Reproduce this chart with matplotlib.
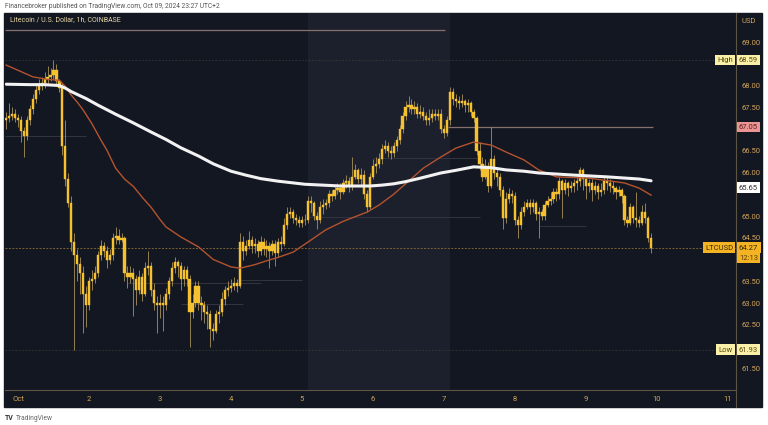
import matplotlib
matplotlib.use("Agg")
import matplotlib.pyplot as plt
import matplotlib.transforms as mtransforms
from matplotlib.lines import Line2D
from matplotlib.patches import Rectangle
import numpy as np

plt.rcParams["font.family"] = ["Roboto", "DejaVu Sans"]

W, H = 768, 425

# hourly LTC/USD candles, first one starts 4h before Oct 1 00:00
first_hour = -4
closes = [
    67.25, 67.30, 67.35, 67.25, 67.20, 66.95, 66.85, 67.20, 67.45, 67.70, 67.90, 68.00,
    68.05, 68.15, 68.20, 68.25, 68.35, 68.10, 67.95, 66.60, 65.85, 65.30, 64.40, 64.10,
    63.90, 63.70, 63.20, 62.95, 63.50, 63.55, 63.70, 64.10, 64.30, 64.20, 64.00, 64.10,
    64.50, 64.55, 64.45, 64.50, 63.70, 63.60, 63.70, 63.55, 63.30, 63.60, 63.20, 63.80,
    63.85, 63.30, 63.00, 62.95, 63.00, 62.95, 63.20, 63.50, 63.80, 63.95, 63.85, 63.55,
    63.75, 63.55, 62.80, 63.00, 63.40, 63.00, 62.95, 62.80, 62.75, 62.40, 62.35, 62.75,
    62.80, 63.10, 63.30, 63.35, 63.40, 63.45, 63.40, 64.40, 64.20, 64.30, 64.45, 64.30,
    64.35, 64.20, 64.40, 64.25, 64.30, 64.20, 64.35, 64.15, 64.40, 64.35, 64.80, 65.05,
    65.10, 64.95, 64.90, 64.85, 64.90, 64.90, 65.35, 65.30, 65.00, 64.90, 65.20, 65.25,
    65.30, 65.50, 65.45, 65.60, 65.65, 65.55, 65.75, 65.80, 65.70, 65.90, 66.05, 65.85,
    65.95, 65.50, 65.20, 65.90, 66.15, 66.20, 66.30, 66.55, 66.60, 66.50, 66.45, 66.60,
    66.75, 67.00, 67.30, 67.50, 67.55, 67.45, 67.50, 67.35, 67.40, 67.30, 67.20, 67.25,
    67.35, 67.30, 67.35, 67.00, 66.90, 67.20, 67.85, 67.70, 67.65, 67.60, 67.65, 67.55,
    67.60, 67.40, 67.25, 66.50, 66.20, 65.90, 66.15, 65.70, 66.30, 66.00, 65.90, 65.60,
    64.95, 65.40, 65.50, 65.45, 64.90, 64.80, 65.10, 65.20, 65.30, 65.20, 65.30, 65.05,
    65.10, 65.00, 65.25, 65.35, 65.40, 65.55, 65.50, 65.80, 65.60, 65.75, 65.65, 65.70,
    65.75, 65.80, 66.05, 65.85, 65.70, 65.75, 65.60, 65.70, 65.55, 65.60, 65.80, 65.75,
    65.70, 65.65, 65.55, 65.60, 65.45, 64.90, 64.85, 65.20, 64.95, 64.90, 64.85, 65.10,
    64.95, 64.50, 64.27,
]
highs = [
    67.40, 67.60, 67.50, 67.45, 67.35, 67.30, 67.05, 67.30, 67.55, 67.80, 68.05, 68.15,
    68.20, 68.30, 68.45, 68.40, 68.59, 68.50, 68.15, 68.05, 67.20, 66.00, 65.45, 64.60,
    64.25, 64.05, 63.85, 63.40, 63.60, 63.75, 63.85, 64.20, 64.45, 64.40, 64.30, 64.25,
    64.60, 64.75, 64.70, 64.60, 64.55, 63.85, 63.85, 63.80, 63.65, 63.75, 63.70, 63.95,
    64.20, 63.95, 63.45, 63.15, 63.20, 63.15, 63.35, 63.60, 63.95, 64.05, 64.00, 63.95,
    63.85, 63.85, 63.65, 63.20, 63.50, 63.50, 63.15, 63.05, 62.95, 62.85, 62.55, 62.85,
    62.95, 63.25, 63.40, 63.50, 63.55, 63.60, 63.55, 64.60, 64.55, 64.45, 64.65, 64.55,
    64.50, 64.45, 64.55, 64.50, 64.45, 64.40, 64.45, 64.45, 64.50, 64.55, 64.95, 65.20,
    65.20, 65.15, 65.05, 65.00, 65.00, 65.05, 65.45, 65.45, 65.35, 65.10, 65.35, 65.40,
    65.40, 65.60, 65.60, 65.70, 65.75, 65.75, 65.85, 65.95, 65.90, 66.35, 66.20, 66.10,
    66.10, 66.05, 65.60, 66.00, 66.30, 66.35, 66.45, 66.65, 66.75, 66.70, 66.60, 66.70,
    66.85, 67.10, 67.40, 67.65, 67.75, 67.70, 67.65, 67.60, 67.55, 67.50, 67.40, 67.45,
    67.45, 67.45, 67.45, 67.45, 67.10, 67.30, 67.97, 67.95, 67.80, 67.75, 67.80, 67.70,
    67.70, 67.65, 67.45, 67.30, 66.70, 66.35, 66.30, 66.25, 67.05, 66.40, 66.10, 66.00,
    65.70, 65.55, 65.65, 65.60, 65.55, 65.00, 65.20, 65.35, 65.40, 65.40, 65.40, 65.35,
    65.20, 65.15, 65.35, 65.45, 65.55, 65.65, 65.65, 65.90, 65.85, 65.85, 65.80, 65.80,
    65.85, 65.95, 66.13, 66.10, 65.95, 65.85, 65.85, 65.80, 65.75, 65.75, 65.90, 65.90,
    65.85, 65.80, 65.70, 65.70, 65.65, 65.50, 65.00, 65.30, 65.25, 65.55, 65.00, 65.25,
    65.30, 65.00, 64.60,
]
lows = [
    67.00, 67.15, 67.20, 67.15, 67.05, 66.70, 66.35, 66.75, 67.10, 67.35, 67.60, 67.80,
    67.90, 67.95, 68.05, 68.10, 68.15, 68.00, 67.85, 66.40, 65.70, 65.20, 64.20, 61.93,
    63.50, 63.20, 62.30, 62.45, 62.85, 63.30, 63.45, 63.60, 64.00, 64.05, 63.80, 63.90,
    64.00, 64.35, 64.35, 64.40, 63.50, 63.35, 63.45, 62.70, 62.95, 63.20, 63.05, 63.15,
    63.65, 63.15, 62.85, 62.30, 62.65, 62.35, 62.85, 63.10, 63.40, 63.70, 63.60, 63.30,
    63.40, 63.40, 62.00, 62.65, 62.90, 62.85, 62.60, 62.55, 62.40, 62.00, 62.15, 62.30,
    62.55, 62.70, 62.95, 63.15, 63.25, 63.30, 63.25, 63.35, 64.00, 64.10, 64.25, 64.15,
    64.15, 64.05, 64.10, 64.10, 64.05, 63.80, 64.10, 63.85, 64.05, 64.20, 64.30, 64.70,
    64.95, 64.85, 64.80, 64.75, 64.75, 64.80, 64.85, 65.10, 64.90, 64.70, 64.85, 65.05,
    65.15, 65.20, 65.35, 65.40, 65.50, 65.40, 65.50, 65.65, 65.55, 65.60, 65.85, 65.75,
    65.70, 65.40, 65.10, 65.15, 65.85, 66.00, 66.10, 66.20, 66.45, 66.35, 66.30, 66.35,
    66.50, 66.65, 66.90, 67.20, 67.40, 67.35, 67.35, 67.25, 67.25, 67.20, 67.10, 67.10,
    67.15, 67.20, 67.20, 66.90, 66.80, 66.85, 67.10, 67.55, 67.50, 67.45, 67.50, 67.40,
    67.40, 67.30, 67.15, 66.40, 66.05, 65.80, 65.85, 65.55, 65.65, 65.85, 65.70, 65.45,
    64.70, 64.85, 65.30, 65.30, 64.80, 64.50, 64.70, 65.00, 65.15, 65.05, 65.10, 64.90,
    64.50, 64.90, 64.90, 65.20, 65.25, 65.30, 65.35, 65.40, 64.95, 65.50, 65.45, 65.55,
    65.55, 65.60, 65.70, 65.60, 65.40, 65.55, 65.35, 65.50, 65.40, 65.45, 65.50, 65.60,
    65.55, 65.50, 65.40, 65.45, 65.30, 64.80, 64.75, 64.80, 64.85, 64.75, 64.75, 64.80,
    64.85, 64.40, 64.15,
]

# moving averages (hour index, price)
ma_long_hours = [-4, 4, 9, 14, 16, 18, 23, 27, 33, 39, 45, 50, 55, 61, 66, 72, 77, 82, 88,
                 97, 103, 109, 114, 119, 123, 127, 131, 136, 143, 148, 154, 160, 165, 171,
                 176, 188, 199, 210, 214]
ma_long = [68.03, 68.02, 68.02, 68.00, 67.94, 67.86, 67.70, 67.55, 67.34, 67.14, 66.93, 66.76,
           66.57, 66.38, 66.20, 66.03, 65.94, 65.86, 65.80, 65.73, 65.71, 65.69, 65.69, 65.69,
           65.71, 65.74, 65.79, 65.87, 65.99, 66.05, 66.13, 66.11, 66.06, 66.03, 65.99, 65.94,
           65.90, 65.85, 65.81]
ma_short_hours = [-4, 1, 5, 10, 14, 16, 18, 20, 22, 25, 28, 30, 33, 36, 39, 42, 45, 48, 50, 55,
                  61, 66, 72, 75, 80, 84, 88, 93, 98, 104, 110, 118, 122, 127, 132, 137, 143,
                  148, 154, 160, 165, 171, 176, 182, 193, 205, 210, 214]
ma_short = [68.47, 68.32, 68.20, 68.14, 68.12, 67.98, 67.78, 67.62, 67.44, 67.12, 66.75, 66.52,
            66.10, 65.85, 65.68, 65.43, 65.20, 64.92, 64.75, 64.52, 64.29, 64.00, 63.83, 63.80,
            63.88, 63.97, 64.05, 64.17, 64.40, 64.68, 64.88, 65.09, 65.25, 65.50, 65.80, 66.10,
            66.36, 66.56, 66.70, 66.63, 66.47, 66.29, 66.06, 65.90, 65.87, 65.76, 65.64, 65.48]

# drawn horizontal lines (price, from hour, to hour)
drawn_lines = [(69.28, -4.4, 144.4), (67.05, 145.4, 214.7)]
faint_lines = [(66.84, -4.4, 23), (63.45, 37, 82), (62.98, 55, 76), (63.53, 75, 96),
               (64.97, 98, 156), (66.34, 120, 156), (64.78, 176, 192)]
high_price, low_price, last_price = 68.59, 61.93, 64.27

day_ticks = list(range(0, 241, 24))
day_labels = ["Oct", "2", "3", "4", "5", "6", "7", "8", "9", "10", "11"]
price_ticks = [61.5, 62.5, 63.0, 63.5, 64.5, 65.0, 66.0, 66.5, 67.5, 68.0, 69.0]
weekend = (98, 146)

BG = "#131722"
GOLD = "#f6c12f"
WICK = "#a8905a"
AXIS_TEXT = "#d0a45a"


def fx(px):
    return px / W


def fy(py):
    return 1 - py / H


fig = plt.figure(figsize=(W / 100, H / 100), dpi=100, facecolor="white")
fig.add_artist(Rectangle((fx(4), fy(407)), fx(762) - fx(4), fy(13) - fy(407),
                         transform=fig.transFigure, color=BG, zorder=0))
ax = fig.add_axes([fx(5), fy(390), fx(736) - fx(5), fy(13) - fy(390)], facecolor=BG)

hours = first_hour + np.arange(len(closes))
closes = np.array(closes)
opens = np.concatenate([[67.20], closes[:-1]])
highs = np.maximum(np.array(highs), np.maximum(opens, closes))
lows = np.minimum(np.array(lows), np.minimum(opens, closes))

ax.axvspan(*weekend, color="#1c202c", lw=0, zorder=0)

for price, h0, h1 in faint_lines:
    ax.hlines(price, h0, h1, color="#34343e", lw=0.7, zorder=1)
for price, h0, h1 in drawn_lines:
    ax.hlines(price, h0, h1, color="#86706c", lw=0.9, zorder=1)
ax.axhline(high_price, color="#3a3836", lw=0.6, ls=(0, (2, 2)), zorder=1)
ax.axhline(low_price, color="#3a3836", lw=0.6, ls=(0, (2, 2)), zorder=1)
ax.axhline(last_price, color="#7a6233", lw=0.7, ls=(0, (2, 1.5)), zorder=1)

ax.vlines(hours, lows, highs, color=WICK, lw=0.6, zorder=2)
ax.bar(hours, closes - opens, bottom=opens, width=0.75, color=GOLD,
       edgecolor=GOLD, linewidth=0.3, zorder=3)

ax.plot(ma_short_hours, ma_short, color="#b4532e", lw=1.0, zorder=4)
ax.plot(ma_long_hours, ma_long, color="#f2f2f2", lw=2.2, zorder=4, solid_capstyle="round")

ax.set_xlim(-4.39, 242.7)
ax.set_ylim(61.0, 69.667)
ax.set_xticks(day_ticks, day_labels)
ax.yaxis.tick_right()
ax.set_yticks(price_ticks, [f"{p:.2f}" for p in price_ticks])
ax.tick_params(axis="y", length=0, pad=4, labelsize=5.5, labelcolor=AXIS_TEXT)
ax.tick_params(axis="x", length=0, pad=4, labelsize=5.5, labelcolor=AXIS_TEXT)
for side in ["top", "left"]:
    ax.spines[side].set_visible(False)
for side in ["bottom", "right"]:
    ax.spines[side].set_color("#5e5442")
    ax.spines[side].set_linewidth(0.8)
fig.add_artist(Line2D([fx(736), fx(736)], [fy(390), fy(407)], color="#5e5442", lw=0.8))

trans = mtransforms.blended_transform_factory(ax.transAxes, ax.transData)


def badge(price, text, fc, tc, name=None, name_fc=None):
    ax.text(1.0 + 3 / 731, price, text, transform=trans, ha="left", va="center",
            fontsize=5.5, color=tc, clip_on=False, zorder=6,
            bbox=dict(boxstyle="square,pad=0.3", fc=fc, ec="none"))
    if name:
        ax.text(1.0 - 3 / 731, price, name, transform=trans, ha="right", va="center",
                fontsize=5.5, color=tc, clip_on=False, zorder=6,
                bbox=dict(boxstyle="square,pad=0.3", fc=name_fc, ec="none"))


badge(high_price, "68.59", "#fbf0a8", "#5b4a12", "High", "#fbf0a8")
badge(67.05, "67.05", "#ec9393", "#5a2020")
badge(65.65, "65.65", "#ffffff", "#333333")
badge(last_price - 0.24, "12:13", "#f3b323", "#5a3f05")
badge(last_price, "64.27", "#f3b323", "#3a2a05", "LTCUSD", "#f3b323")
badge(low_price, "61.93", "#fbf0a8", "#5b4a12", "Low", "#fbf0a8")

fig.text(fx(749), fy(21), "USD", ha="center", va="center", fontsize=5.5, color=AXIS_TEXT)
fig.text(fx(10), fy(19.5), "Litecoin / U.S. Dollar, 1h, COINBASE", ha="left", va="center",
         fontsize=5, color="#e6d6a6")
fig.text(fx(5), fy(6), "Financebroker published on TradingView.com, Oct 09, 2024 23:27 UTC+2",
         ha="left", va="center", fontsize=4.8, color="#555555")
fig.text(fx(5), fy(418), "TV", ha="left", va="center", fontsize=5, color="#333333",
         fontweight="bold")
fig.text(fx(16), fy(418), "TradingView", ha="left", va="center", fontsize=4.8, color="#666666")

fig.savefig("out.png", dpi=100, facecolor="white")
